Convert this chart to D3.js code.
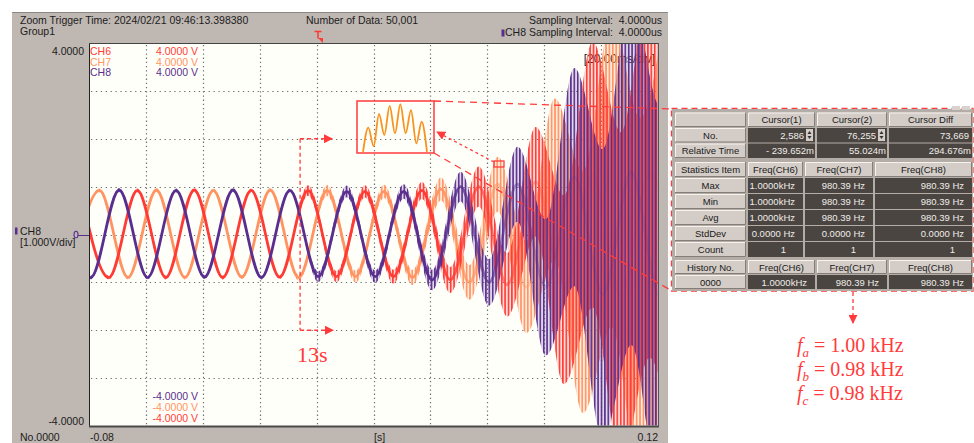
<!DOCTYPE html>
<html>
<head>
<meta charset="utf-8">
<script src="https://cdn.jsdelivr.net/npm/d3@7"></script>
<style>
  body { margin: 0; background: #fff; }
  svg { display: block; font-family: "Liberation Sans", Arial, sans-serif; }
</style>
</head>
<body>
<svg id="chart" width="974" height="443"></svg>
<script>
// ---- data ----
const gridMs = [-60, -40, -20, 0, 20, 40, 60, 80, 100];
const gridV = [-3, -2, -1, 0, 1, 2, 3];
const xTickLabels = ['-0.08', '0.12'];
const yTickLabels = ['4.0000', '-4.0000'];

// extremes (peak / trough) of the 50 Hz fundamental, time in ms, value in V
const ch8Ms = [-89.4, -79.4, -69.4, -59.4, -49.4, -39.4, -29.4, -19.4, -9.4, 0.6, 10.6, 20.6, 30.6, 40.6, 50.6, 60.6, 70.6, 80.6, 90.6, 100.6, 110.6, 120.6, 130.6];
const ch8V = [0.92, -0.9, 0.93, -0.9, 0.92, -0.89, 0.93, -0.9, 0.92, -0.88, 0.9, -0.88, 0.9, -0.95, 1.0, -1.0, 1.05, -1.1, 1.2, -1.25, 1.3, -1.3, 1.3];
const ch6Ms = [-83, -73, -63, -53, -43, -33, -23, -13, -3, 7, 17, 27, 37, 47, 57, 67, 77, 87, 97, 107, 117, 127];
const ch6V = [0.93, -0.9, 0.92, -0.9, 0.93, -0.9, 0.92, -0.89, 0.92, -0.88, 0.9, -0.88, 0.92, -0.95, 1.0, -1.05, 1.1, -1.15, 1.25, -1.3, 1.3, -1.3];
const ch7Ms = [-86.3, -76.3, -66.3, -56.3, -46.3, -36.3, -26.3, -16.3, -6.3, 3.7, 13.7, 23.7, 33.7, 43.7, 53.7, 63.7, 73.7, 83.7, 93.7, 103.7, 113.7, 123.7];
const ch7V = [-0.9, 0.92, -0.9, 0.93, -0.9, 0.92, -0.89, 0.93, -0.9, 0.92, -0.88, 0.9, -0.9, 0.95, -1.0, 1.05, -1.1, 1.15, -1.2, 1.3, -1.3, 1.3];

// half-width of the high frequency band around the fundamental (V)
const spreadMs = [-80, -8, -3, 20, 35, 50, 60, 70, 78, 85, 92, 100, 108, 120];
const spreadV = [0.04, 0.04, 0.11, 0.13, 0.16, 0.3, 0.47, 0.75, 1.2, 1.8, 2.4, 3.0, 3.5, 4.0];

// zoomed detail in the inset (relative level)
const insetLevels = [0.02, 0.48, 0.13, 0.74, 0.34, 0.89, 0.37, 0.92, 0.37, 0.81, 0.18, 0.59, 0.02];

const cursorHead = ['', 'Cursor(1)', 'Cursor(2)', 'Cursor Diff'];
const cursorRows = [
  ['No.', '2,586', '76,255', '73,669'],
  ['Relative Time', '- 239.652m', '55.024m', '294.676m']
];
const statHead = ['Statistics Item', 'Freq(CH6)', 'Freq(CH7)', 'Freq(CH8)'];
const statRows = [
  ['Max', '1.0000kHz', '980.39 Hz', '980.39 Hz'],
  ['Min', '1.0000kHz', '980.39 Hz', '980.39 Hz'],
  ['Avg', '1.0000kHz', '980.39 Hz', '980.39 Hz'],
  ['StdDev', '0.0000 Hz', '0.0000 Hz', '0.0000 Hz'],
  ['Count', '1', '1', '1']
];
const historyHead = ['History No.', 'Freq(CH6)', 'Freq(CH7)', 'Freq(CH8)'];
const historyRows = [['0000', '1.0000kHz', '980.39 Hz', '980.39 Hz']];
const freqResults = [['a', '1.00'], ['b', '0.98'], ['c', '0.98']];

// ---- drawing ----
const RED = '#ff3b35', ORANGE = '#ff9462', PURPLE = '#5a2e8e';
const svg = d3.select('#chart');
const defs = svg.append('defs');

const x = d3.scaleLinear().domain([-80, 120]).range([89, 658]);
const y = d3.scaleLinear().domain([-4, 4]).range([426, 43]);
const spread = d3.scaleLinear().domain(spreadMs).range(spreadV).clamp(true);

// window frame
svg.append('rect').attr('x', 12).attr('y', 12).attr('width', 656).attr('height', 431).attr('fill', '#bfb7b2');
svg.append('line').attr('x1', 12).attr('x2', 668).attr('y1', 12.5).attr('y2', 12.5).attr('stroke', '#8d8783');

// header texts
const hdr = svg.append('g').attr('font-size', '10.5px').attr('fill', '#1c1c1c');
hdr.append('text').attr('x', 20).attr('y', 24).text('Zoom Trigger Time: 2024/02/21 09:46:13.398380');
hdr.append('text').attr('x', 20).attr('y', 35).text('Group1');
hdr.append('text').attr('x', 306).attr('y', 24).text('Number of Data: 50,001');
hdr.append('text').attr('x', 662).attr('y', 24).attr('text-anchor', 'end').attr('xml:space', 'preserve').text('Sampling Interval:  4.0000us');
hdr.append('text').attr('x', 662).attr('y', 36).attr('text-anchor', 'end').attr('xml:space', 'preserve').text('CH8 Sampling Interval:  4.0000us');
svg.append('rect').attr('x', 501.5).attr('y', 29.5).attr('width', 3).attr('height', 7).attr('fill', PURPLE);
// trigger mark
svg.append('path').attr('d', 'M314.5,31.5 h7 M318,31.5 v7').attr('stroke', RED).attr('stroke-width', 1.6).attr('fill', 'none');
svg.append('path').attr('d', 'M318,38 L323,38 L323,43 Z').attr('fill', RED);

// plot area
svg.append('rect').attr('x', 89).attr('y', 43).attr('width', 569).attr('height', 383).attr('fill', '#fffffa');
defs.append('clipPath').attr('id', 'plotclip').append('rect').attr('x', 89.5).attr('y', 43.5).attr('width', 568).attr('height', 382);

// grid
const grid = svg.append('g').attr('stroke', '#6f6f6f').attr('stroke-width', 1.2);
grid.selectAll('.gx').data(gridMs).enter().append('line')
  .attr('x1', d => Math.round(x(d)) + 0.5).attr('x2', d => Math.round(x(d)) + 0.5)
  .attr('y1', 45).attr('y2', 425).attr('stroke-dasharray', '1.3,2.9');
grid.selectAll('.gy').data(gridV).enter().append('line')
  .attr('y1', d => Math.round(y(d)) + 0.5).attr('y2', d => Math.round(y(d)) + 0.5)
  .attr('x1', 91).attr('x2', 657).attr('stroke-dasharray', '1.3,3.6');

// channel scale labels inside the plot
const chLabels = [['CH6', RED], ['CH7', ORANGE], ['CH8', PURPLE]];
const lab = svg.append('g').attr('font-size', '10.5px');
chLabels.forEach((c, i) => {
  lab.append('text').attr('x', 90).attr('y', 55 + i * 10.7).attr('fill', c[1]).text(c[0]);
  lab.append('text').attr('x', 198).attr('y', 55 + i * 10.7).attr('fill', c[1]).attr('text-anchor', 'end').text('4.0000 V');
  lab.append('text').attr('x', 198).attr('y', 422 - i * 10.9).attr('fill', c[1]).attr('text-anchor', 'end').text('-4.0000 V');
});
svg.append('text').attr('x', 655).attr('y', 63).attr('text-anchor', 'end').attr('font-size', '12px').attr('fill', '#1c1c1c').text('[20.00ms/div]');

// waveforms
const waves = [
  { name: 'CH7', color: ORANGE, t: ch7Ms, v: ch7V, off: 0 },
  { name: 'CH6', color: RED, t: ch6Ms, v: ch6V, off: 1.1 },
  { name: 'CH8', color: PURPLE, t: ch8Ms, v: ch8V, off: 2.3 }
];
waves.forEach(w => {
  const p = defs.append('pattern').attr('id', 'hf-' + w.name)
    .attr('patternUnits', 'userSpaceOnUse').attr('width', 3.4).attr('height', 20).attr('x', w.off);
  p.append('rect').attr('width', 3.4).attr('height', 20).attr('fill', w.color).attr('opacity', 0.18);
  p.append('rect').attr('width', 1.6).attr('height', 20).attr('fill', w.color);
  // the solid trace fades once the oscillation takes over
  const g = defs.append('linearGradient').attr('id', 'fade-' + w.name)
    .attr('gradientUnits', 'userSpaceOnUse').attr('x1', x(40)).attr('x2', x(85)).attr('y1', 0).attr('y2', 0);
  g.append('stop').attr('offset', 0).attr('stop-color', w.color).attr('stop-opacity', 1);
  g.append('stop').attr('offset', 1).attr('stop-color', w.color).attr('stop-opacity', 0.15);
});

const band = d3.area()
  .x(d => x(d[0]))
  .y0(d => y(d[1] - spread(d[0])))
  .y1(d => y(d[1] + spread(d[0])))
  .curve(d3.curveMonotoneX);
const base = d3.line().x(d => x(d[0])).y(d => y(d[1])).curve(d3.curveMonotoneX);

const plot = svg.append('g').attr('clip-path', 'url(#plotclip)');
waves.forEach(w => {
  const pts = w.t.map((t, i) => [t, w.v[i]]);
  plot.append('path').attr('d', band(pts)).attr('fill', `url(#hf-${w.name})`);
  plot.append('path').attr('d', base(pts)).attr('fill', 'none').attr('stroke', `url(#fade-${w.name})`).attr('stroke-width', 2.8);
});

// plot border
svg.append('line').attr('x1', 89.5).attr('x2', 89.5).attr('y1', 43).attr('y2', 427).attr('stroke', '#222');
svg.append('line').attr('x1', 89).attr('x2', 659).attr('y1', 43.5).attr('y2', 43.5).attr('stroke', '#444');
svg.append('line').attr('x1', 658.5).attr('x2', 658.5).attr('y1', 43).attr('y2', 427).attr('stroke', '#555');
svg.append('line').attr('x1', 89).attr('x2', 659).attr('y1', 426.5).attr('y2', 426.5).attr('stroke', '#4a4a4a').attr('stroke-width', 2);

// axis labels
const ax = svg.append('g').attr('font-size', '10.5px').attr('fill', '#1c1c1c');
ax.append('text').attr('x', 84).attr('y', 55).attr('text-anchor', 'end').text(yTickLabels[0]);
ax.append('text').attr('x', 84).attr('y', 425).attr('text-anchor', 'end').text(yTickLabels[1]);
ax.append('text').attr('x', 90).attr('y', 441).text(xTickLabels[0]);
ax.append('text').attr('x', 658).attr('y', 441).attr('text-anchor', 'end').text(xTickLabels[1]);
ax.append('text').attr('x', 374).attr('y', 441).text('[s]');
ax.append('text').attr('x', 20).attr('y', 441).text('No.0000');
ax.append('text').attr('x', 20).attr('y', 235).text('CH8');
ax.append('text').attr('x', 20).attr('y', 246).text('[1.000V/div]');
svg.append('rect').attr('x', 15).attr('y', 227.5).attr('width', 2.5).attr('height', 7).attr('fill', PURPLE);
// zero-position marker of CH8
svg.append('ellipse').attr('cx', 76).attr('cy', y(0)).attr('rx', 2).attr('ry', 3.3).attr('fill', 'none').attr('stroke', PURPLE).attr('stroke-width', 1.1);
svg.append('line').attr('x1', 78).attr('x2', 89).attr('y1', Math.round(y(0)) + 0.5).attr('y2', Math.round(y(0)) + 0.5).attr('stroke', PURPLE);

// ---- annotations ----
const ANN = '#ff3b3b';
const mk = defs.append('marker').attr('id', 'arrow').attr('viewBox', '0 0 10 10')
  .attr('refX', 9).attr('refY', 5).attr('markerWidth', 9).attr('markerHeight', 9)
  .attr('markerUnits', 'userSpaceOnUse').attr('orient', 'auto');
mk.append('path').attr('d', 'M0,0 L10,5 L0,10 Z').attr('fill', ANN);

const ann = svg.append('g').attr('stroke', ANN).attr('fill', 'none').attr('stroke-width', 1.3);
const cx = x(-5.8);
ann.append('line').attr('x1', cx).attr('x2', cx).attr('y1', y(2)).attr('y2', y(-2)).attr('stroke-dasharray', '4,3');
ann.append('line').attr('x1', cx).attr('x2', cx + 32).attr('y1', y(2)).attr('y2', y(2)).attr('stroke-dasharray', '4,3').attr('marker-end', 'url(#arrow)');
ann.append('line').attr('x1', cx).attr('x2', cx + 33).attr('y1', y(-2)).attr('y2', y(-2)).attr('stroke-dasharray', '4,3').attr('marker-end', 'url(#arrow)');
svg.append('text').attr('x', 297).attr('y', 362).attr('font-family', '"Liberation Serif", "Times New Roman", serif')
  .attr('font-size', '22px').attr('fill', ANN).text('13s');

// inset
ann.append('rect').attr('x', 357).attr('y', 101).attr('width', 77).attr('height', 52).attr('stroke-width', 1.5);
ann.append('rect').attr('x', 494).attr('y', 161).attr('width', 10).attr('height', 6).attr('stroke-width', 1.3);
const ix = d3.scaleLinear().domain([0, insetLevels.length - 1]).range([363, 427]);
const iy = d3.scaleLinear().domain([0, 1]).range([153, 100]);
svg.append('path')
  .attr('d', d3.line().x((d, i) => ix(i)).y(d => iy(d)).curve(d3.curveMonotoneX)(insetLevels))
  .attr('fill', 'none').attr('stroke', '#f7931e').attr('stroke-width', 1.8);
ann.append('line').attr('x1', 494).attr('y1', 162).attr('x2', 437).attr('y2', 132).attr('stroke-dasharray', '3,3').attr('marker-end', 'url(#arrow)');
ann.append('line').attr('x1', 434).attr('y1', 101).attr('x2', 672).attr('y2', 109).attr('stroke-dasharray', '7,5');
ann.append('line').attr('x1', 434).attr('y1', 153).attr('x2', 672).attr('y2', 291).attr('stroke-dasharray', '7,5');

// ---- statistics table ----
const tbl = svg.append('g').attr('font-size', '9.5px');
tbl.append('rect').attr('x', 672).attr('y', 109).attr('width', 301).attr('height', 182).attr('fill', '#b4aca7');
tbl.append('rect').attr('x', 952).attr('y', 106).attr('width', 8).attr('height', 4).attr('fill', '#d8d2ce');
tbl.append('rect').attr('x', 962).attr('y', 106).attr('width', 8).attr('height', 4).attr('fill', '#d8d2ce');

const colsA = [[675, 746], [748, 815], [817, 887], [889, 972]];
const colsB = [[675, 746], [748, 803], [805, 873], [875, 972]];

function block(head, rows, cols, top, pitch, h, pads) {
  [head].concat(rows).forEach((row, r) => {
    row.forEach((txt, c) => {
      const light = r === 0 || c === 0;
      const x0 = cols[c][0], x1 = cols[c][1], y0 = top + r * pitch;
      tbl.append('rect').attr('x', x0).attr('y', y0).attr('width', x1 - x0).attr('height', h)
        .attr('fill', light ? '#d3ccc7' : '#4a4541');
      if (light) {
        tbl.append('path').attr('d', `M${x0 + 0.5},${y0 + h} V${y0 + 0.5} H${x1}`).attr('stroke', '#f6f2ee').attr('fill', 'none');
        tbl.append('path').attr('d', `M${x0},${y0 + h - 0.5} H${x1 - 0.5} V${y0}`).attr('stroke', '#857d78').attr('fill', 'none');
      }
      const pad = pads && r > 0 ? pads(r, c) : 8;
      tbl.append('text')
        .attr('x', light ? (x0 + x1) / 2 : x1 - pad)
        .attr('y', y0 + h / 2 + 3.5)
        .attr('text-anchor', light ? 'middle' : 'end')
        .attr('fill', light ? '#1a1a1a' : '#f0ece8')
        .text(txt);
    });
  });
}

block(cursorHead, cursorRows, colsA, 112.5, 15.5, 14.5, (r, c) => (r === 1 && c < 3 ? 11 : r === 2 ? 1 : 3));
block(statHead, statRows, colsB, 162, 16, 15, (r, c) => (r === 5 ? 17 : 8));
block(historyHead, historyRows, colsA, 260, 15, 14, () => 8);

// spin buttons on the No. row
[1, 2].forEach(c => {
  const sx = colsA[c][1] - 9, sy = 129;
  tbl.append('rect').attr('x', sx).attr('y', sy).attr('width', 7).attr('height', 12).attr('fill', '#d3ccc7');
  tbl.append('path').attr('d', `M${sx + 1.5},${sy + 5} l2,-3 l2,3 Z M${sx + 1.5},${sy + 7} l2,3 l2,-3 Z`).attr('fill', '#333');
});

// red highlight on the table
ann.append('rect').attr('x', 671.5).attr('y', 108.5).attr('width', 301.5).attr('height', 182.5).attr('stroke-dasharray', '6,4');
ann.append('ellipse').attr('cx', 849).attr('cy', 206).attr('rx', 122).attr('ry', 50).attr('stroke-dasharray', '4,3').attr('stroke-width', 1.4);
ann.append('line').attr('x1', 853).attr('x2', 853).attr('y1', 257).attr('y2', 323).attr('stroke-dasharray', '4,3').attr('marker-end', 'url(#arrow)');

// frequency results
const fr = svg.append('g').attr('font-family', '"Liberation Serif", "Times New Roman", serif').attr('fill', ANN);
freqResults.forEach((d, i) => {
  const t = fr.append('text').attr('x', 797).attr('y', 352 + i * 24).attr('font-size', '20px');
  t.append('tspan').attr('font-style', 'italic').text('f');
  t.append('tspan').attr('font-style', 'italic').attr('font-size', '13px').attr('dy', 5).text(d[0]);
  t.append('tspan').attr('dy', -5).attr('xml:space', 'preserve').text(` = ${d[1]} kHz`);
});
</script>
</body>
</html>
